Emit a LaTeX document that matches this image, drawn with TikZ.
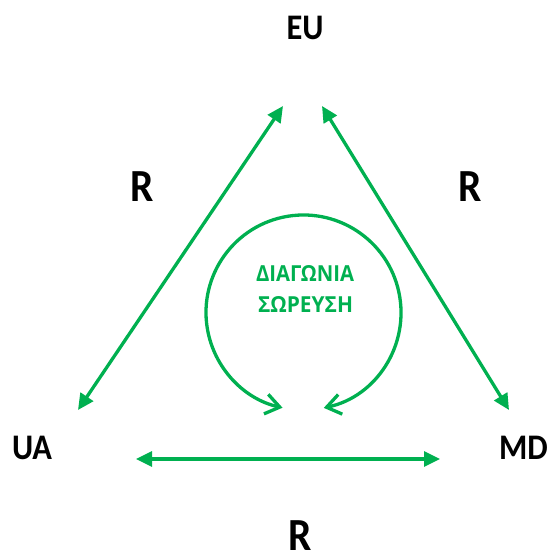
\documentclass[tikz,border=0pt]{standalone}
\usepackage{fontspec}
\setmainfont{Carlito}
\newfontfamily\grfont{Open Sans}
\usetikzlibrary{arrows.meta,calc}
\definecolor{ogreen}{HTML}{00B050}
\newcommand{\nx}[1]{\scalebox{0.9}[1]{#1}}
\begin{document}
\begin{tikzpicture}[x=1pt,y=1pt,
  lbl/.style={anchor=base,inner sep=0pt,font=\fontsize{36}{40}\selectfont\bfseries,text=black},
  rlbl/.style={anchor=base,inner sep=0pt,font=\fontsize{46}{50}\selectfont\bfseries,text=black},
  gtxt/.style={anchor=base,inner sep=0pt,font=\grfont\bfseries,text=ogreen},
  link/.style={draw=ogreen,line width=3.3pt,{Triangle[length=16pt,width=15pt]}-{Triangle[length=16pt,width=15pt]}},
  cyc/.style={draw=ogreen,line width=3.3pt,{Straight Barb[length=14pt,width=20pt]}-{Straight Barb[length=14pt,width=20pt]}}]
\useasboundingbox (0,0) rectangle (548,554);
% labels
\node[lbl] (eu) at (305,514) {\nx{EU}};
\node[lbl] (ua) at (32,94) {\nx{UA}};
\node[lbl] (md) at (523.5,94) {\nx{MD}};
\node[rlbl] (rl) at (142.5,352) {\nx{R}};
\node[rlbl] (rr) at (470,352) {\nx{R}};
\node[rlbl] (rb) at (300,3.5) {\nx{R}};
\node[gtxt] (g1) at (305,272) {\resizebox{98pt}{16pt}{ΔΙΑΓΩΝΙΑ}};
\node[gtxt] (g2) at (305.5,241) {\resizebox{95pt}{16pt}{ΣΩΡΕΥΣΗ}};
% arrow end points
\coordinate (euL) at (283,448);
\coordinate (euR) at (322,448);
\coordinate (uaT) at (78,144);
\coordinate (uaR) at (136,95);
\coordinate (mdT) at (509,144);
\coordinate (mdL) at (440,95);
\coordinate (c) at (303.5,241.5);
\coordinate (cR) at ($(c)+(282:97.5)$);
\path[link] (uaT) -- (euL);
\path[link] (euR) -- (mdT);
\path[link] (uaR) -- (mdL);
\path[cyc] (cR) arc[start angle=282,end angle=617.6,radius=97.5];
\end{tikzpicture}
\end{document}
